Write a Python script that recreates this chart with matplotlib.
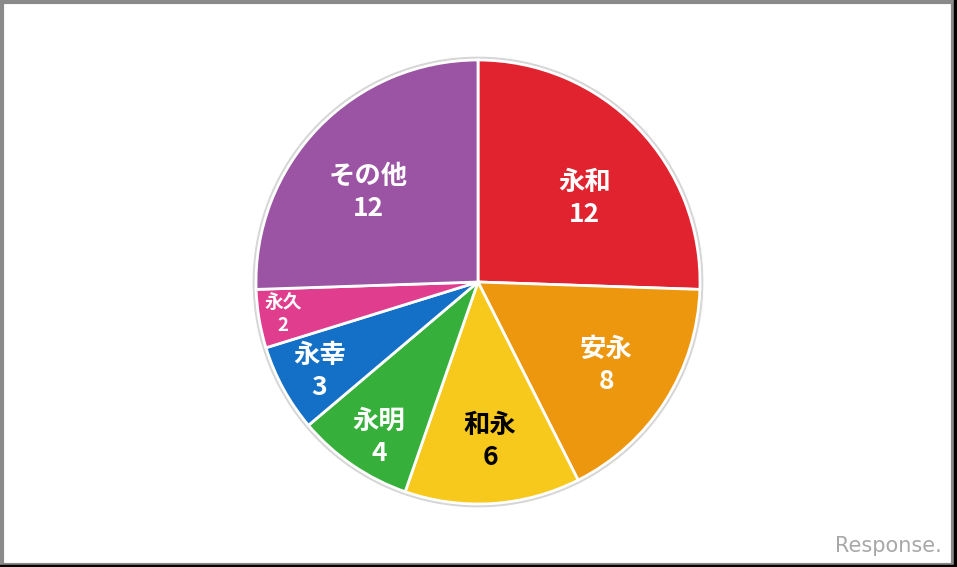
import matplotlib.pyplot as plt
import numpy as np
from matplotlib.patches import Rectangle, Circle

plt.rcParams['font.family'] = ['Noto Sans CJK JP', 'DejaVu Sans']

names = ['永和', '安永', '和永', '永明', '永幸', '永久', 'その他']
counts = [12, 8, 6, 4, 3, 2, 12]
colors = ['#E0232F', '#EC970D', '#F8C91D', '#36B03B', '#1470C6', '#E13D8E', '#9B54A4']
text_colors = ['white', 'white', 'black', 'white', 'white', 'white', 'white']
label_r = [0.61, 0.69, 0.72, 0.83, 0.82, 0.89, 0.64]
label_shift = [-6, -0.5, 0.5, 2, 0.7, -0.2, 4.8]   # degrees
font_sizes = [19, 19, 19, 19, 19, 13.5, 19]

fig = plt.figure(figsize=(9.57, 5.67), dpi=100)
half = 222 * 1.02
ax = fig.add_axes([(478 - half) / 957, (567 - 282 - half) / 567,
                   2 * half / 957, 2 * half / 567])

# faint outline behind the pie
ax.add_patch(Circle((0, 0), 1.012, color='#d6d6d6', zorder=0))
wedges, _ = ax.pie(counts, colors=colors, startangle=90, counterclock=False,
                   wedgeprops=dict(edgecolor='white', linewidth=2))

for w, n, c, tc, r, sh, fs in zip(wedges, names, counts, text_colors,
                                  label_r, label_shift, font_sizes):
    mid = np.deg2rad((w.theta1 + w.theta2) / 2 + sh)
    x, y = r * np.cos(mid), r * np.sin(mid)
    ax.text(x, y, f'{n}\n{c}', ha='center', va='center', color=tc,
            fontsize=fs, fontweight='bold', linespacing=1.25)

ax.set_xlim(-1.02, 1.02)
ax.set_ylim(-1.02, 1.02)
ax.set_aspect('equal')
ax.axis('off')

# frame around the picture
fig.patches.append(Rectangle((0.002, 0.004), 0.994, 0.992, transform=fig.transFigure,
                             fill=False, edgecolor='#8a8a8a', linewidth=3))
fig.patches.append(Rectangle((0, 0), 1, 0.003, transform=fig.transFigure,
                             color='black'))
fig.patches.append(Rectangle((0.997, 0), 0.003, 1, transform=fig.transFigure,
                             color='black'))

fig.text(942 / 957, 1 - 546 / 567, 'Response.', ha='right', va='center',
         color='#a8a8a8', fontsize=15, family='DejaVu Sans')

fig.savefig('out.png', dpi=100)
